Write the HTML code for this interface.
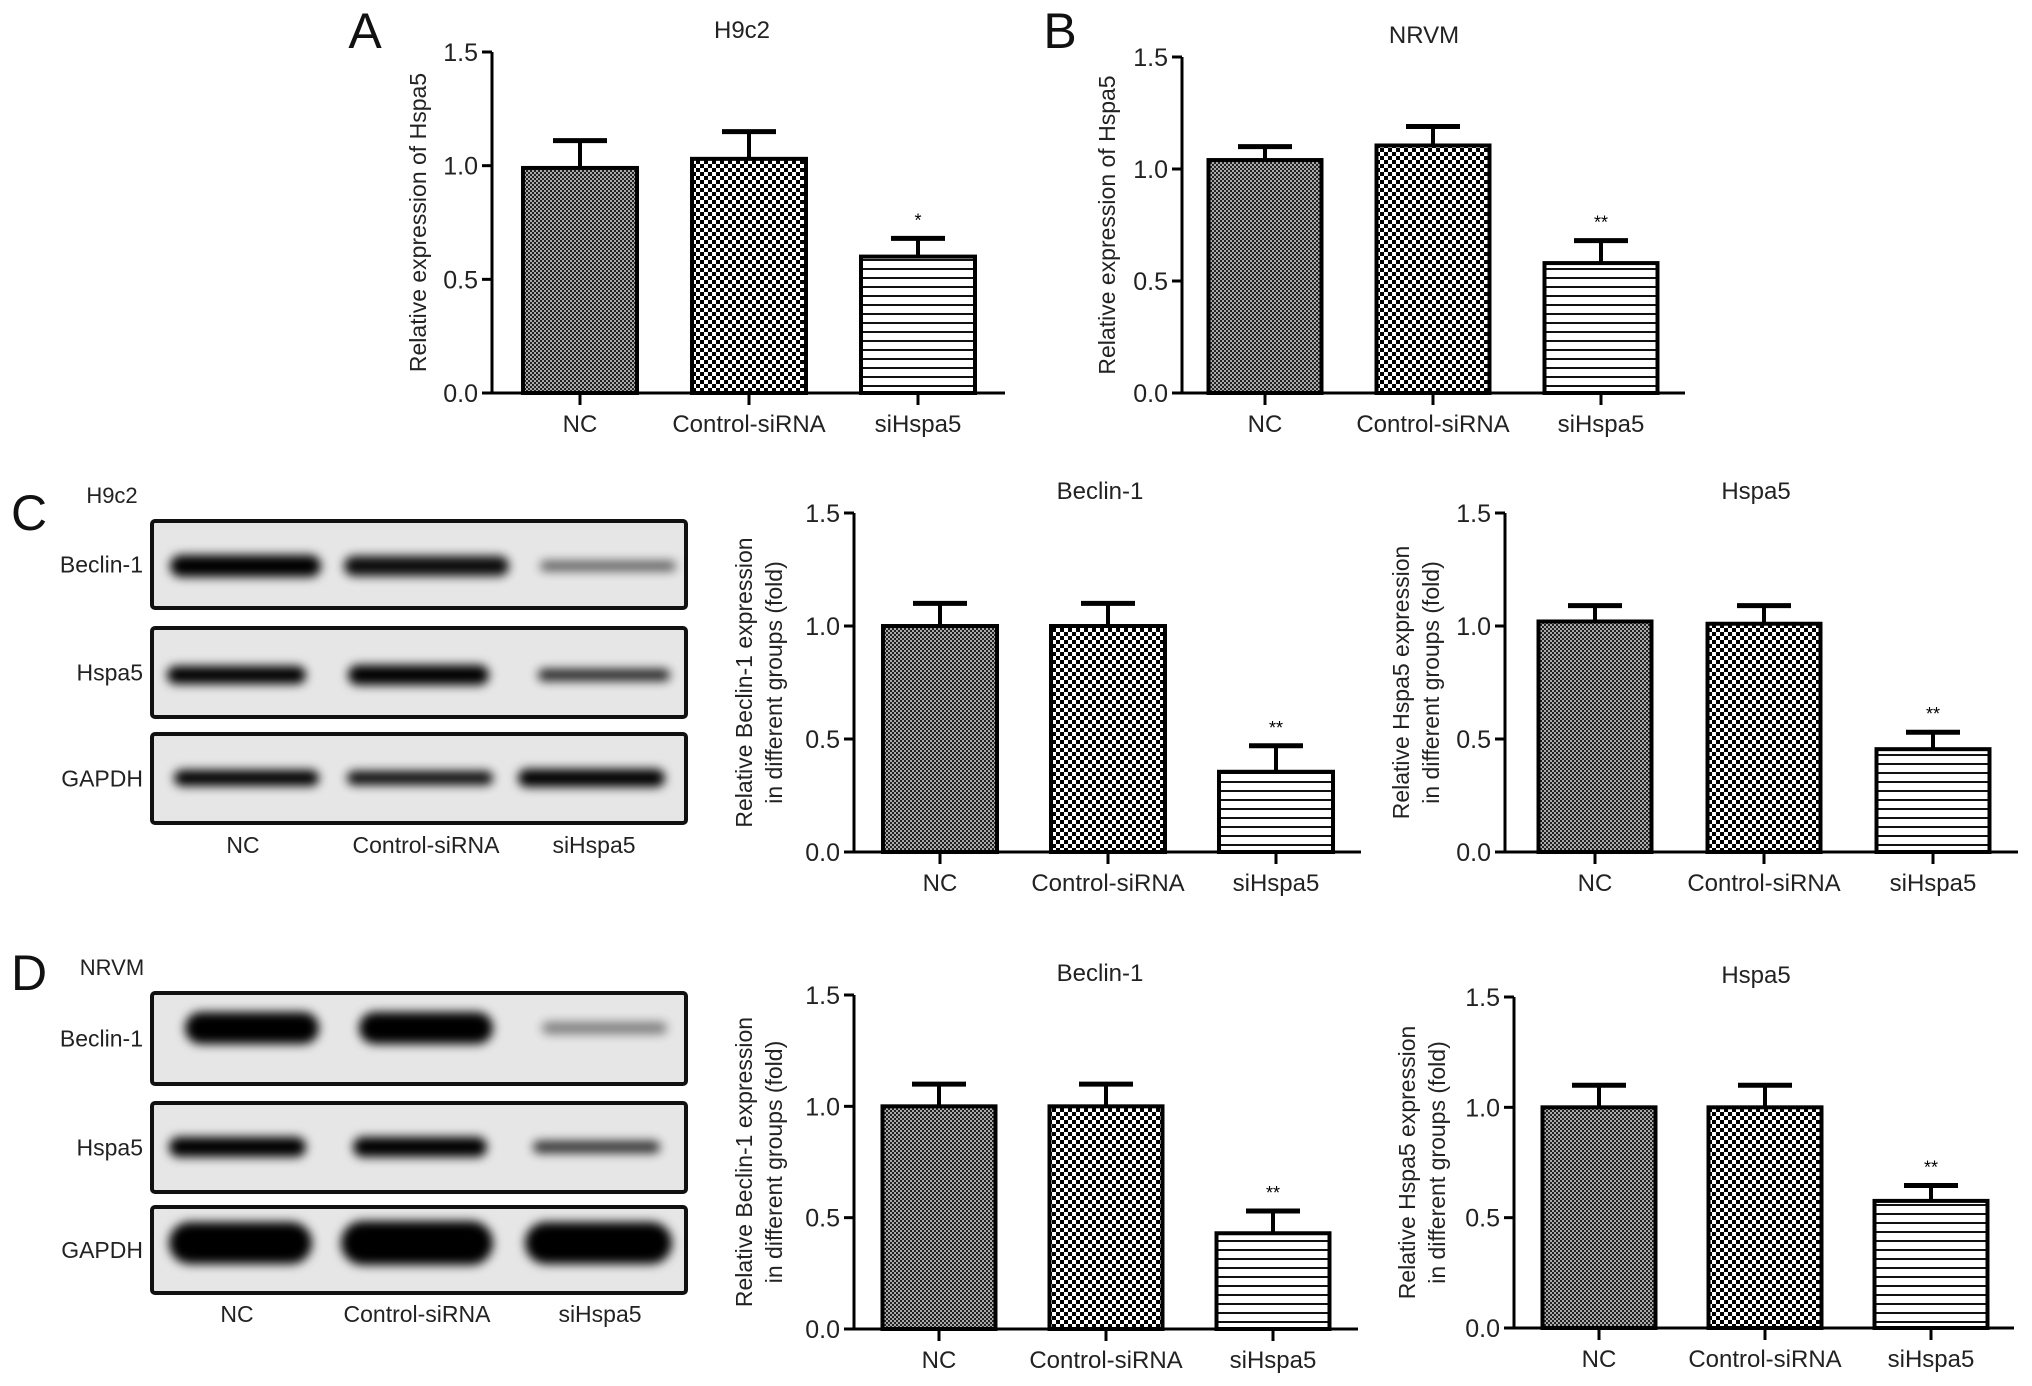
<!DOCTYPE html>
<html><head><meta charset="utf-8">
<style>
html,body{margin:0;padding:0;background:#fff;}
svg{display:block;font-family:"Liberation Sans",Arial,sans-serif;}
</style></head>
<body>
<svg id="fig" width="2032" height="1386" viewBox="0 0 2032 1386" xmlns="http://www.w3.org/2000/svg">
<defs>
  <pattern id="patNC" width="4" height="4" patternUnits="userSpaceOnUse">
    <rect width="4" height="4" fill="#aaa"/>
    <rect width="2" height="2" fill="#222"/><rect x="2" y="2" width="2" height="2" fill="#222"/>
  </pattern>
  <pattern id="patCtrl" width="8" height="8" patternUnits="userSpaceOnUse">
    <rect width="8" height="8" fill="#fff"/>
    <rect width="4" height="4" fill="#000"/><rect x="4" y="4" width="4" height="4" fill="#000"/>
  </pattern>
  <pattern id="patSi" width="10" height="9" patternUnits="userSpaceOnUse">
    <rect width="10" height="9" fill="#fff"/>
    <rect y="7" width="10" height="2" fill="#111"/>
  </pattern>
  <filter id="blur3" x="-20%" y="-100%" width="140%" height="300%"><feGaussianBlur stdDeviation="5"/></filter>
</defs>
<g id="layer"></g>
</svg>
<script>
const categories = ["NC", "Control-siRNA", "siHspa5"];
const yTickValues = [0, 0.5, 1.0, 1.5];
const yTickLabels = ["0.0", "0.5", "1.0", "1.5"];
const valuesA = [0.99, 1.03, 0.60];
const errorsA = [0.12, 0.12, 0.08];
const sigA = ["", "", "*"];
const valuesB = [1.04, 1.105, 0.58];
const errorsB = [0.06, 0.085, 0.10];
const sigB = ["", "", "**"];
const valuesCBeclin = [1.00, 1.00, 0.355];
const errorsCBeclin = [0.10, 0.10, 0.115];
const sigCBeclin = ["", "", "**"];
const valuesCHspa5 = [1.02, 1.01, 0.455];
const errorsCHspa5 = [0.07, 0.08, 0.075];
const sigCHspa5 = ["", "", "**"];
const valuesDBeclin = [1.00, 1.00, 0.43];
const errorsDBeclin = [0.10, 0.10, 0.10];
const sigDBeclin = ["", "", "**"];
const valuesDHspa5 = [1.00, 1.00, 0.576];
const errorsDHspa5 = [0.10, 0.10, 0.07];
const sigDHspa5 = ["", "", "**"];

const NS = "http://www.w3.org/2000/svg";
const layer = document.getElementById("layer");
function mk(tag, attrs, parent, text) {
  const e = document.createElementNS(NS, tag);
  for (const k in attrs) e.setAttribute(k, attrs[k]);
  if (text !== undefined) e.textContent = text;
  (parent || layer).appendChild(e);
  return e;
}
const fills = ["url(#patNC)", "url(#patCtrl)", "url(#patSi)"];

function chart(name, g, vals, errs, sigs, title, ylab) {
  const grp = mk("g", {});
  
  
  const y = v => g.y0 - (v / 1.5) * (g.y0 - g.yTop);
  const cx = i => g.ax + g.first + i * g.step;
  vals.forEach((v, i) => {
    const top = y(v);
    const eb = mk("line", {x1: cx(i), x2: cx(i), y1: top, y2: y(v + errs[i]), stroke: "#000", "stroke-width": 4}, grp);
    
    
    const cap = mk("line", {x1: cx(i) - 27, x2: cx(i) + 27, y1: y(v + errs[i]), y2: y(v + errs[i]), stroke: "#000", "stroke-width": 5}, grp);
    
    
    const r = mk("rect", {x: cx(i) - g.bw / 2, y: top, width: g.bw, height: g.y0 - top, fill: fills[i], stroke: "#000", "stroke-width": 4}, grp);
    
    
    if (sigs[i]) {
      const s = mk("text", {x: cx(i), y: y(v + errs[i]) - 12, "text-anchor": "middle", "font-size": 18}, grp, sigs[i]);
      
      
    }
    const t = mk("line", {x1: cx(i), x2: cx(i), y1: g.y0, y2: g.y0 + 12, stroke: "#000", "stroke-width": 3}, grp);
    
    
    const l = mk("text", {x: cx(i), y: g.y0 + 39, "text-anchor": "middle", "font-size": 24, fill: "#222"}, grp, categories[i]);
    
    
  });
  const ya = mk("line", {x1: g.ax, x2: g.ax, y1: g.yTop, y2: g.y0 + 1.5, stroke: "#000", "stroke-width": 3}, grp);
  
  
  const xa = mk("line", {x1: g.ax - 10, x2: g.xEnd, y1: g.y0, y2: g.y0, stroke: "#000", "stroke-width": 3}, grp);
  
  
  yTickValues.forEach((v, i) => {
    const tk = mk("line", {x1: g.ax - 10, x2: g.ax, y1: y(v), y2: y(v), stroke: "#000", "stroke-width": 3}, grp);
    
    
    const tl = mk("text", {x: g.ax - 14, y: y(v) + 9, "text-anchor": "end", "font-size": 25, fill: "#222"}, grp, yTickLabels[i]);
    
    
  });
  const tt = mk("text", {x: g.tx, y: g.yTop - 14, "text-anchor": "middle", "font-size": 24, fill: "#222"}, grp, title);
  
  
  const mid = (g.yTop + g.y0) / 2;
  ylab.forEach((line, k) => {
    const lx = g.lx + k * 30;
    const yl = mk("text", {x: lx, y: mid, transform: `rotate(-90 ${lx} ${mid})`, "text-anchor": "middle", "font-size": 23, fill: "#222"}, grp, line);
    
    
  });
}

chart("chart-a-h9c2", {ax: 492, yTop: 52, y0: 393, xEnd: 1005, first: 88, step: 169, bw: 114, tx: 742, lx: 426}, valuesA, errorsA, sigA, "H9c2", ["Relative expression of Hspa5"]);
chart("chart-b-nrvm", {ax: 1182, yTop: 57, y0: 393, xEnd: 1685, first: 83, step: 168, bw: 113, tx: 1424, lx: 1115}, valuesB, errorsB, sigB, "NRVM", ["Relative expression of Hspa5"]);
chart("chart-c-beclin", {ax: 854, yTop: 513, y0: 852, xEnd: 1361, first: 86, step: 168, bw: 114, tx: 1100, lx: 752}, valuesCBeclin, errorsCBeclin, sigCBeclin, "Beclin-1", ["Relative Beclin-1 expression", "in different groups (fold)"]);
chart("chart-c-hspa5", {ax: 1505, yTop: 513, y0: 852, xEnd: 2018, first: 90, step: 169, bw: 113, tx: 1756, lx: 1409}, valuesCHspa5, errorsCHspa5, sigCHspa5, "Hspa5", ["Relative Hspa5 expression", "in different groups (fold)"]);
chart("chart-d-beclin", {ax: 854, yTop: 995, y0: 1329, xEnd: 1358, first: 85, step: 167, bw: 113, tx: 1100, lx: 752}, valuesDBeclin, errorsDBeclin, sigDBeclin, "Beclin-1", ["Relative Beclin-1 expression", "in different groups (fold)"]);
chart("chart-d-hspa5", {ax: 1514, yTop: 997, y0: 1328, xEnd: 2014, first: 85, step: 166, bw: 113, tx: 1756, lx: 1415}, valuesDHspa5, errorsDHspa5, sigDHspa5, "Hspa5", ["Relative Hspa5 expression", "in different groups (fold)"]);

[["A", 365, 48], ["B", 1060, 48], ["C", 29, 530], ["D", 29, 990]].forEach(p => {
  const t = mk("text", {x: p[1], y: p[2], "text-anchor": "middle", "font-size": 50, fill: "#111"}, layer, p[0]);
  
  
});

function blot(name, cell, y0s, y1s, bands, lanesX, laneY) {
  const grp = mk("g", {});
  
  
  const ct = mk("text", {x: 112, y: y0s[0] - 18, "text-anchor": "middle", "font-size": 22, fill: "#222"}, grp, cell);
  
  
  const names = ["Beclin-1", "Hspa5", "GAPDH"];
  names.forEach((nm, r) => {
    const bx = mk("rect", {x: 152, y: y0s[r], width: 534, height: y1s[r] - y0s[r], rx: 3, fill: "#e6e6e6", stroke: "#111", "stroke-width": 4}, grp);
    
    
    const lb = mk("text", {x: 143, y: (y0s[r] + y1s[r]) / 2 + 8, "text-anchor": "end", "font-size": 23, fill: "#222"}, grp, nm);
    
    
    bands[r].forEach(b => {
      const el = mk("rect", {x: b[0], y: b[2] - b[3] / 2, width: b[1] - b[0], height: b[3], rx: b[3] / 2, fill: "#000", opacity: b[4], filter: "url(#blur3)"}, grp);
      
      
    });
  });
  categories.forEach((c, i) => {
    const t = mk("text", {x: lanesX[i], y: laneY, "text-anchor": "middle", "font-size": 23, fill: "#222"}, grp, c);
    
    
  });
}
blot("blot-c-h9c2", "H9c2", [521, 628, 734], [608, 717, 823], [
  [[170, 321, 566, 22, 1], [344, 509, 566, 20, 0.95], [540, 676, 566, 10, 0.6]],
  [[167, 306, 675, 18, 1], [348, 489, 675, 20, 1], [538, 670, 675, 12, 0.85]],
  [[174, 319, 778, 16, 1], [347, 493, 778, 14, 0.95], [518, 665, 778, 18, 1]]
], [243, 426, 594], 853);
blot("blot-d-nrvm", "NRVM", [993, 1103, 1207], [1084, 1192, 1293], [
  [[185, 319, 1028, 32, 1], [359, 493, 1028, 32, 1], [542, 667, 1028, 12, 0.45]],
  [[169, 306, 1147, 20, 1], [353, 487, 1147, 20, 1], [533, 660, 1147, 12, 0.8]],
  [[169, 312, 1243, 42, 1], [341, 493, 1243, 44, 1], [525, 672, 1243, 42, 1]]
], [237, 417, 600], 1322);
</script>
</body></html>
